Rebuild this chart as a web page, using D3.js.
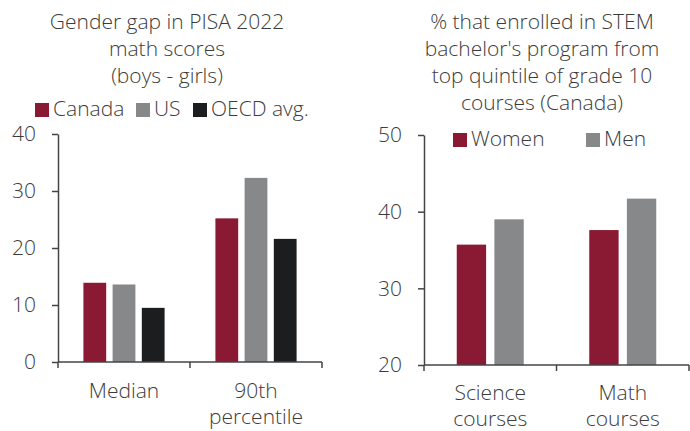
<!DOCTYPE html>
<html>
<head>
<meta charset="utf-8">
<script src="https://cdn.jsdelivr.net/npm/d3@7"></script>
<style>
  body { margin: 0; background: #fff; }
  svg text { font-family: "Open Sans", sans-serif; font-weight: 300; fill: #3c3c3c; }
</style>
</head>
<body>
<svg id="chart" width="690" height="431"></svg>
<script>
// left panel: PISA gender gap
const GAP_CATEGORIES = ["Median", "90th\npercentile"];
const GAP_SERIES = ["Canada", "US", "OECD avg."];
const GAP_CANADA = [13.9, 25.2];
const GAP_US = [13.6, 32.3];
const GAP_OECD = [9.5, 21.6];
const GAP_TICKS = [0, 10, 20, 30, 40];
const GAP_TITLE = ["Gender gap in PISA 2022", "math scores", "(boys - girls)"];

// right panel: STEM enrolment
const STEM_CATEGORIES = ["Science\ncourses", "Math\ncourses"];
const STEM_SERIES = ["Women", "Men"];
const STEM_WOMEN = [35.7, 37.6];
const STEM_MEN = [39.0, 41.7];
const STEM_TICKS = [20, 30, 40, 50];
const STEM_TITLE = ["% that enrolled in STEM", "bachelor's program from", "top quintile of grade 10", "courses (Canada)"];

const COLORS = { "Canada": "#8a1a33", "US": "#87888a", "OECD avg.": "#1c1d1f", "Women": "#8a1a33", "Men": "#87888a" };
const AXIS_COLOR = "#444";
const FONT_SIZE = 21;
const LEGEND_FONT = 21;

const svg = d3.select("#chart");

const draw_panel = (opts) => {
    const g = svg.append("g");

    const yScale = d3.scaleLinear().domain(opts.yDomain).range([opts.bottom, opts.top]);
    const x0 = d3.scaleBand().domain(opts.categories).range([opts.left, opts.right]);
    const x1 = d3.scaleBand().domain(opts.series)
        .range([0, x0.bandwidth()]).paddingInner(0.22).paddingOuter(0.87);

    // title
    const title = g.append("text")
        .attr("text-anchor", "middle")
        .attr("font-size", FONT_SIZE);
    opts.title.forEach((line, i) => {
        title.append("tspan")
            .attr("x", opts.titleX)
            .attr("y", 29 + i * 27)
            .text(line);
    });

    // bars
    const rows = opts.categories.map((c, i) => ({
        cat: c,
        vals: opts.series.map((s, j) => ({ key: s, value: opts.values[j][i] })),
    }));
    g.selectAll("g.group")
        .data(rows)
        .enter()
        .append("g")
        .attr("class", "group")
        .attr("transform", (d) => `translate(${x0(d.cat)},0)`)
        .selectAll("rect")
        .data((d) => d.vals)
        .enter()
        .append("rect")
        .attr("x", (d) => x1(d.key))
        .attr("width", x1.bandwidth())
        .attr("y", (d) => yScale(d.value))
        .attr("height", (d) => yScale(opts.yDomain[0]) - yScale(d.value))
        .attr("fill", (d) => COLORS[d.key]);

    // y axis
    const yAxis = d3.axisLeft(yScale).tickValues(opts.ticks).tickSize(6).tickPadding(16).tickSizeOuter(0);
    const yg = g.append("g")
        .attr("transform", `translate(${opts.left},0)`)
        .call(yAxis);
    yg.select(".domain").attr("stroke", AXIS_COLOR).attr("stroke-width", 1.5);
    yg.selectAll(".tick line").attr("stroke", AXIS_COLOR).attr("stroke-width", 1.5);
    yg.selectAll(".tick text").attr("font-size", FONT_SIZE).attr("font-family", null).attr("fill", null);

    // x axis with ticks at band edges
    const edges = opts.categories.map((c) => x0(c)).concat([x0.range()[1]]);
    const xg = g.append("g").attr("transform", `translate(0,${opts.bottom})`);
    xg.append("line")
        .attr("x1", opts.left).attr("x2", opts.right)
        .attr("stroke", AXIS_COLOR).attr("stroke-width", 1.5);
    xg.selectAll("line.edge")
        .data(edges)
        .enter()
        .append("line")
        .attr("class", "edge")
        .attr("x1", (d) => d).attr("x2", (d) => d)
        .attr("y1", 0).attr("y2", 6)
        .attr("stroke", AXIS_COLOR).attr("stroke-width", 1.5);
    const labels = xg.selectAll("text.cat")
        .data(opts.categories)
        .enter()
        .append("text")
        .attr("class", "cat")
        .attr("text-anchor", "middle")
        .attr("font-size", FONT_SIZE);
    labels.each(function (d) {
        d.split("\n").forEach((line, i) => {
            d3.select(this).append("tspan")
                .attr("x", x0(d) + x0.bandwidth() / 2)
                .attr("y", opts.catY + i * 26)
                .text(line);
        });
    });

    // legend
    const leg = g.selectAll("g.legend")
        .data(opts.series)
        .enter()
        .append("g")
        .attr("class", "legend")
        .attr("transform", (d, i) => `translate(${opts.legendX[i]},${opts.legendY})`);
    leg.append("rect")
        .attr("x", 0).attr("y", -13)
        .attr("width", 14).attr("height", 14)
        .attr("fill", (d) => COLORS[d]);
    leg.append("text")
        .attr("x", 18).attr("y", 0)
        .attr("font-size", LEGEND_FONT)
        .text((d) => d);
};

draw_panel({
    categories: GAP_CATEGORIES,
    series: GAP_SERIES,
    values: [GAP_CANADA, GAP_US, GAP_OECD],
    yDomain: [0, 40],
    ticks: GAP_TICKS,
    title: GAP_TITLE,
    titleX: 167,
    left: 58, right: 322, top: 134, bottom: 362,
    catY: 36,
    legendX: [35, 136, 193],
    legendY: 116,
});

draw_panel({
    categories: STEM_CATEGORIES,
    series: STEM_SERIES,
    values: [STEM_WOMEN, STEM_MEN],
    yDomain: [20, 50],
    ticks: STEM_TICKS,
    title: STEM_TITLE,
    titleX: 542,
    left: 424, right: 689, top: 135, bottom: 365,
    catY: 35,
    legendX: [453, 586],
    legendY: 146,
});
</script>
</body>
</html>
